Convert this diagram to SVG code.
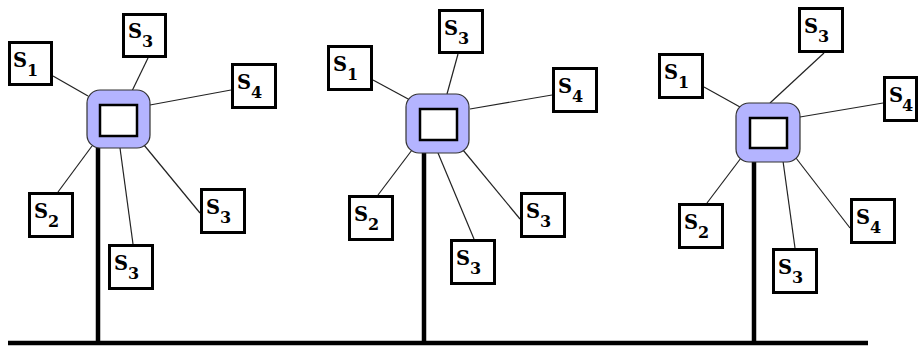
<svg xmlns="http://www.w3.org/2000/svg" width="920" height="346" viewBox="0 0 920 346">
<style>
.box rect{fill:#fff;stroke:#000;stroke-width:3}
.box text{font-family:"DejaVu Serif","Liberation Serif",serif;font-weight:bold;fill:#000}
.s{font-size:19.5px}
.sub{font-size:16px}
.hub .o{fill:#b4b4ff;stroke:#333;stroke-width:1.2}
.hub .i{fill:#fff;stroke:#000;stroke-width:2.5}
.link{stroke:#222;stroke-width:1.2;fill:none}
.bus{stroke:#000;stroke-width:4.5;fill:none}
</style>
<rect width="920" height="346" fill="#fff"/>
<g id="connectors">
<line class="bus" x1="8" y1="343" x2="868" y2="343"/>
<line class="bus" x1="98" y1="146" x2="98" y2="343"/>
<line class="bus" x1="424" y1="151" x2="424" y2="343"/>
<line class="bus" x1="754" y1="160" x2="754" y2="343"/>
<line class="link" x1="53" y1="76" x2="88" y2="96"/>
<line class="link" x1="148" y1="58" x2="132" y2="91"/>
<line class="link" x1="231" y1="90" x2="150" y2="105"/>
<line class="link" x1="58" y1="192" x2="92" y2="146"/>
<line class="link" x1="133" y1="244" x2="120" y2="148"/>
<line class="link" x1="200" y1="213" x2="144" y2="145"/>
<line class="link" x1="373" y1="80" x2="410" y2="100"/>
<line class="link" x1="458" y1="54" x2="447" y2="94"/>
<line class="link" x1="552" y1="95" x2="470" y2="109"/>
<line class="link" x1="378" y1="195" x2="412" y2="150"/>
<line class="link" x1="474" y1="239" x2="438" y2="153"/>
<line class="link" x1="520" y1="219" x2="463" y2="150"/>
<line class="link" x1="704" y1="87" x2="740" y2="107"/>
<line class="link" x1="824" y1="53" x2="770" y2="103"/>
<line class="link" x1="883" y1="103" x2="800" y2="117"/>
<line class="link" x1="707" y1="203" x2="741" y2="158"/>
<line class="link" x1="795" y1="248" x2="783" y2="161"/>
<line class="link" x1="850" y1="228" x2="796" y2="158"/>
</g>
<g id="hub1" class="hub"><rect class="o" x="87" y="90" width="63" height="58" rx="13"/><rect class="i" x="100" y="105" width="37" height="31"/></g>
<g id="hub2" class="hub"><rect class="o" x="406" y="94" width="63" height="59" rx="13"/><rect class="i" x="420" y="109" width="37" height="31"/></g>
<g id="hub3" class="hub"><rect class="o" x="736" y="103" width="64" height="59" rx="13"/><rect class="i" x="750" y="118" width="37" height="30"/></g>

<g id="g1s1" class="box"><rect x="9.5" y="42.5" width="42" height="42"/><text class="s" x="13" y="67">S</text><text class="sub" x="27" y="76">1</text></g>
<g id="g1s3a" class="box"><rect x="123.5" y="14.5" width="42" height="42"/><text class="s" x="128" y="38">S</text><text class="sub" x="142" y="47">3</text></g>
<g id="g1s4" class="box"><rect x="232.5" y="64.5" width="43" height="43"/><text class="s" x="237" y="89">S</text><text class="sub" x="251" y="98">4</text></g>
<g id="g1s2" class="box"><rect x="29.5" y="193.5" width="43" height="43"/><text class="s" x="34" y="218">S</text><text class="sub" x="48" y="227">2</text></g>
<g id="g1s3b" class="box"><rect x="109.5" y="245.5" width="43" height="43"/><text class="s" x="114" y="270">S</text><text class="sub" x="128" y="279">3</text></g>
<g id="g1s3c" class="box"><rect x="201.5" y="189.5" width="43" height="43"/><text class="s" x="206" y="214">S</text><text class="sub" x="220" y="223">3</text></g>

<g id="g2s1" class="box"><rect x="328.5" y="46.5" width="43" height="43"/><text class="s" x="333" y="71">S</text><text class="sub" x="347" y="80">1</text></g>
<g id="g2s3a" class="box"><rect x="439.5" y="10.5" width="43" height="42"/><text class="s" x="444" y="35">S</text><text class="sub" x="458" y="44">3</text></g>
<g id="g2s4" class="box"><rect x="553.5" y="68.5" width="43" height="43"/><text class="s" x="558" y="93">S</text><text class="sub" x="572" y="102">4</text></g>
<g id="g2s2" class="box"><rect x="349.5" y="196.5" width="43" height="43"/><text class="s" x="354" y="221">S</text><text class="sub" x="368" y="230">2</text></g>
<g id="g2s3b" class="box"><rect x="451.5" y="240.5" width="43" height="43"/><text class="s" x="456" y="265">S</text><text class="sub" x="470" y="274">3</text></g>
<g id="g2s3c" class="box"><rect x="521.5" y="193.5" width="43" height="43"/><text class="s" x="526" y="218">S</text><text class="sub" x="540" y="227">3</text></g>

<g id="g3s1" class="box"><rect x="659.5" y="54.5" width="43" height="43"/><text class="s" x="664" y="79">S</text><text class="sub" x="678" y="88">1</text></g>
<g id="g3s3a" class="box"><rect x="799.5" y="8.5" width="43" height="43"/><text class="s" x="804" y="33">S</text><text class="sub" x="818" y="42">3</text></g>
<g id="g3s4" class="box"><rect x="884.5" y="77.5" width="32" height="43"/><text class="s" x="889" y="102">S</text><text class="sub" x="902" y="111">4</text></g>
<g id="g3s2" class="box"><rect x="679.5" y="204.5" width="43" height="43"/><text class="s" x="684" y="229">S</text><text class="sub" x="698" y="238">2</text></g>
<g id="g3s3b" class="box"><rect x="773.5" y="249.5" width="43" height="43"/><text class="s" x="778" y="274">S</text><text class="sub" x="792" y="283">3</text></g>
<g id="g3s4b" class="box"><rect x="851.5" y="199.5" width="43" height="43"/><text class="s" x="856" y="224">S</text><text class="sub" x="870" y="233">4</text></g>
</svg>
